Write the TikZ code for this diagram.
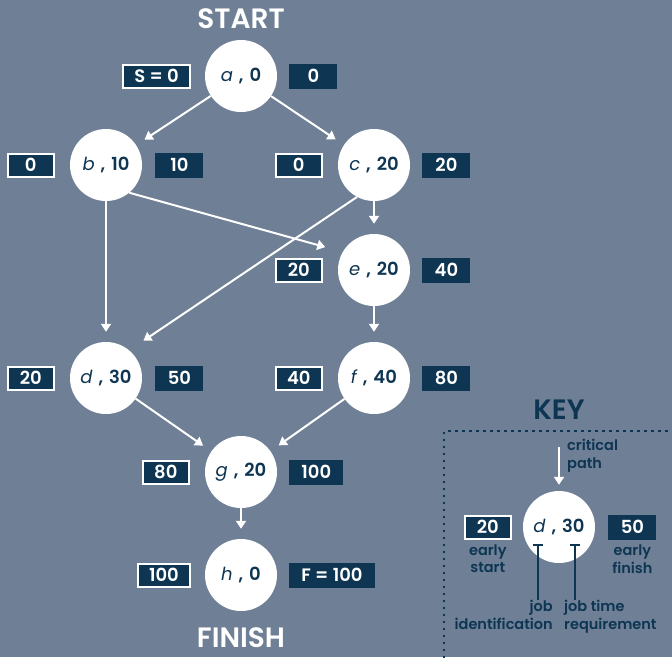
\documentclass[tikz,border=0pt]{standalone}
\usepackage{fontspec}
\setmainfont{Poppins}[BoldFont={* SemiBold}, BoldItalicFont={* SemiBold Italic}]
\usetikzlibrary{arrows.meta}
\usetikzlibrary{positioning}
\definecolor{slate}{RGB}{111,128,150}
\definecolor{navy}{RGB}{14,53,82}
\newcommand{\jobtext}[2]{{\mdseries\itshape #1}\hspace{6pt},\hspace{6pt}#2}

\tikzset{
  job/.style={circle, fill=white, minimum size=72pt, inner sep=0pt, text=navy,
    font=\fontsize{18}{18}\selectfont\bfseries},
  startbox/.style={draw=white, line width=2pt, fill=navy, text=white,
    minimum width=46pt, minimum height=23pt, inner xsep=11pt,
    font=\fontsize{18}{18}\selectfont\bfseries},
  finishbox/.style={fill=navy, text=white, minimum width=48pt, minimum height=25pt,
    inner xsep=12pt, font=\fontsize{18}{18}\selectfont\bfseries},
  flow/.style={white, line width=2pt, -{Triangle[width=10pt,length=8pt]}, shorten >=10pt},
  title/.style={inner sep=0pt, font=\fontsize{28}{28}\selectfont\bfseries},
  note/.style={text=navy, align=center, inner sep=0pt, font=\fontsize{14.5}{17.5}\selectfont\bfseries}
}

\begin{document}
\begin{tikzpicture}[x=1pt, y=-1pt]
  \fill[slate] (0,0) rectangle (672,657);
  \useasboundingbox (0,0) rectangle (672,657);

  % jobs
  \node[job] (a) at (241,76) {\jobtext{a}{0}};
  \node[job] (b) at (106,165) {\jobtext{b}{10}};
  \node[job] (c) at (374,165) {\jobtext{c}{20}};
  \node[job] (e) at (374,270) {\jobtext{e}{20}};
  \node[job] (d) at (106,378) {\jobtext{d}{30}};
  \node[job] (f) at (374,378) {\jobtext{f}{40}};
  \node[job] (g) at (241,472) {\jobtext{g}{20}};
  \node[job] (h) at (241,575) {\jobtext{h}{0}};

  \node[title, white, anchor=base] (start) at (241,28) {START};
  \node[title, white, anchor=base] (finish) at (241,647) {FINISH};

  % early start / early finish
  \node[startbox, left=14pt of a] (as) {S = 0};
  \node[finishbox, right=12pt of a] (af) {0};
  \node[startbox, left=15pt of b] (bs) {0};
  \node[finishbox, right=13pt of b] (bf) {10};
  \node[startbox, left=15pt of c] (cs) {0};
  \node[finishbox, right=12pt of c] (cf) {20};
  \node[startbox, left=15pt of e] (es) {20};
  \node[finishbox, right=12pt of e] (ef) {40};
  \node[startbox, left=15pt of d] (ds) {20};
  \node[finishbox, right=13pt of d] (df) {50};
  \node[startbox, left=15pt of f] (fs) {40};
  \node[finishbox, right=12pt of f] (ff) {80};
  \node[startbox, left=15pt of g] (gs) {80};
  \node[finishbox, right=12pt of g] (gf) {100};
  \node[startbox, left=14pt of h] (hs) {100};
  \node[finishbox, right=12pt of h] (hf) {F = 100};

  % connectors
  \draw[flow] (a) -- (b);
  \draw[flow] (a) -- (c);
  \draw[flow] (b) -- (d);
  \draw[flow, shorten >=18pt] (b.-50) -- (e.150);
  \draw[flow] (c) -- (e);
  \draw[flow, shorten >=17pt] (c.-118) -- (d.50);
  \draw[flow] (e) -- (f);
  \draw[flow] (d) -- (g);
  \draw[flow] (f) -- (g);
  \draw[flow] (g) -- (h);

  % key
  \node[title, text=navy] (keytitle) at (559,410) {KEY};
  \draw[navy, line width=2.5pt, dash pattern=on 2.5pt off 4.5pt] (444,665) -- (444,431) -- (680,431);
  \node[job] (k) at (559,527) {\jobtext{d}{30}};
  \node[startbox, left=11pt of k] (ks) {20};
  \node[finishbox, right=13pt of k] (kf) {50};
  \coordinate (crit) at (559,447);
  \draw[flow, shorten >=6pt] (crit) -- (k);
  \node[note, align=left, anchor=north west] (crittext) at (567,439) {critical\\path};
  \node[note, below=5pt of ks] (kstext) {early\\start};
  \node[note, below=5pt of kf] (kftext) {early\\finish};
  \draw[navy, line width=1.5pt] (533,545) -- (543,545) (538,545) -- (538,600);
  \draw[navy, line width=1.5pt] (570,545) -- (580,545) (575,545) -- (575,600);
  \node[note, align=right, anchor=north east] (jobid) at (553,600) {job\\identification};
  \node[note, align=left, anchor=north west] (jobtime) at (564,600) {job time\\requirement};
\end{tikzpicture}
\end{document}
